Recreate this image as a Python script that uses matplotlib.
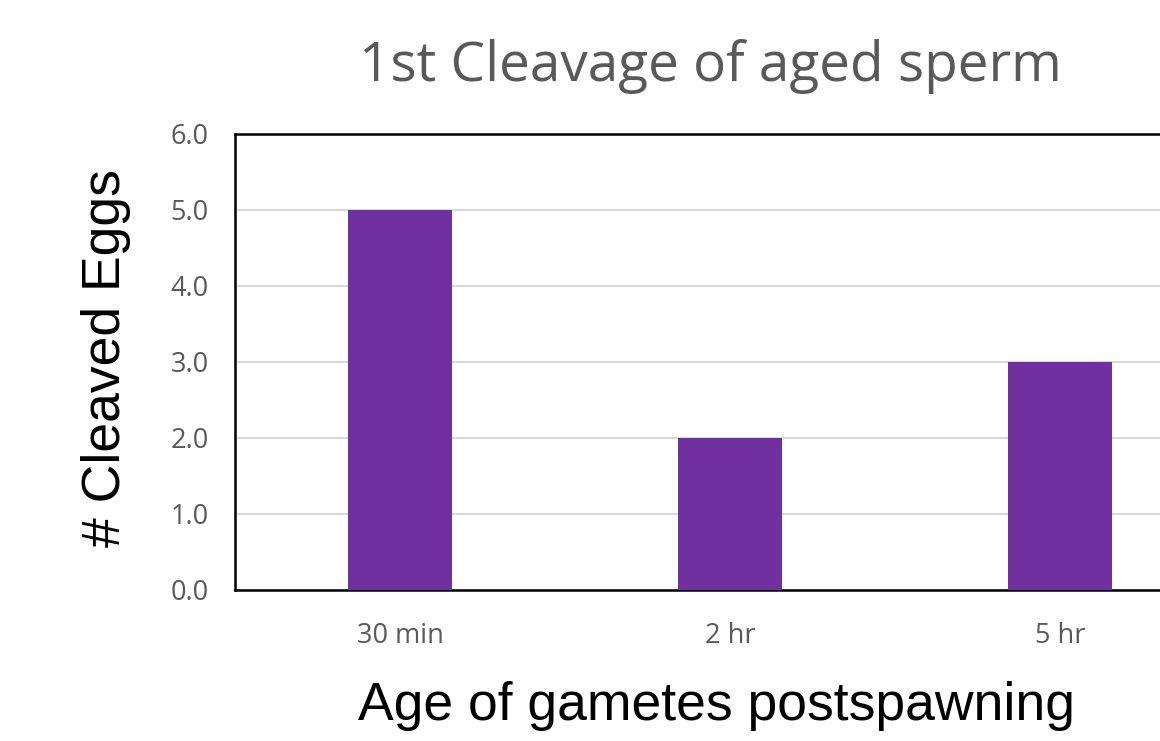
import matplotlib.pyplot as plt

categories = ['30 min', '2 hr', '5 hr']
cleaved = [5.0, 2.0, 3.0]
yticks = [0.0, 1.0, 2.0, 3.0, 4.0, 5.0, 6.0]

fig = plt.figure(figsize=(11.6, 7.41), dpi=100)
# the plot area runs past the right edge of the figure
ax = fig.add_axes([235 / 1160, 151 / 741, 990 / 1160, 456 / 741])

x = range(len(categories))
ax.bar(x, cleaved, width=0.315, color='#7030A0', zorder=3)

ax.set_xlim(-0.5, 2.5)
ax.set_ylim(0, 6)
ax.set_yticks(yticks)
ax.set_yticklabels(['%.1f' % v for v in yticks])
ax.set_xticks(list(x))
ax.set_xticklabels(categories)
ax.tick_params(axis='both', length=0, labelsize=19.5, labelcolor='#595959')
ax.tick_params(axis='x', pad=23)
ax.tick_params(axis='y', pad=19)
for lab in ax.get_xticklabels() + ax.get_yticklabels():
    lab.set_fontfamily('Open Sans')

ax.yaxis.grid(True, color='#d9d9d9', linewidth=1.5, zorder=0)
for side in ['top', 'left', 'bottom', 'right']:
    ax.spines[side].set_color('black')
    ax.spines[side].set_linewidth(1.8)

fig.text(710 / 1160, 1 - 66 / 741, '1st Cleavage of aged sperm', ha='center', va='center',
         fontsize=39.5, color='#595959', family='Open Sans')
fig.text(716 / 1160, 1 - 706 / 741, 'Age of gametes postspawning', ha='center', va='center',
         fontsize=38.5, color='black', family='Liberation Sans')
fig.text(106 / 1160, 1 - 358 / 741, '# Cleaved Eggs', ha='center', va='center', rotation=90,
         fontsize=38.5, color='black', family='Liberation Sans')

fig.savefig('out.png', dpi=100)
